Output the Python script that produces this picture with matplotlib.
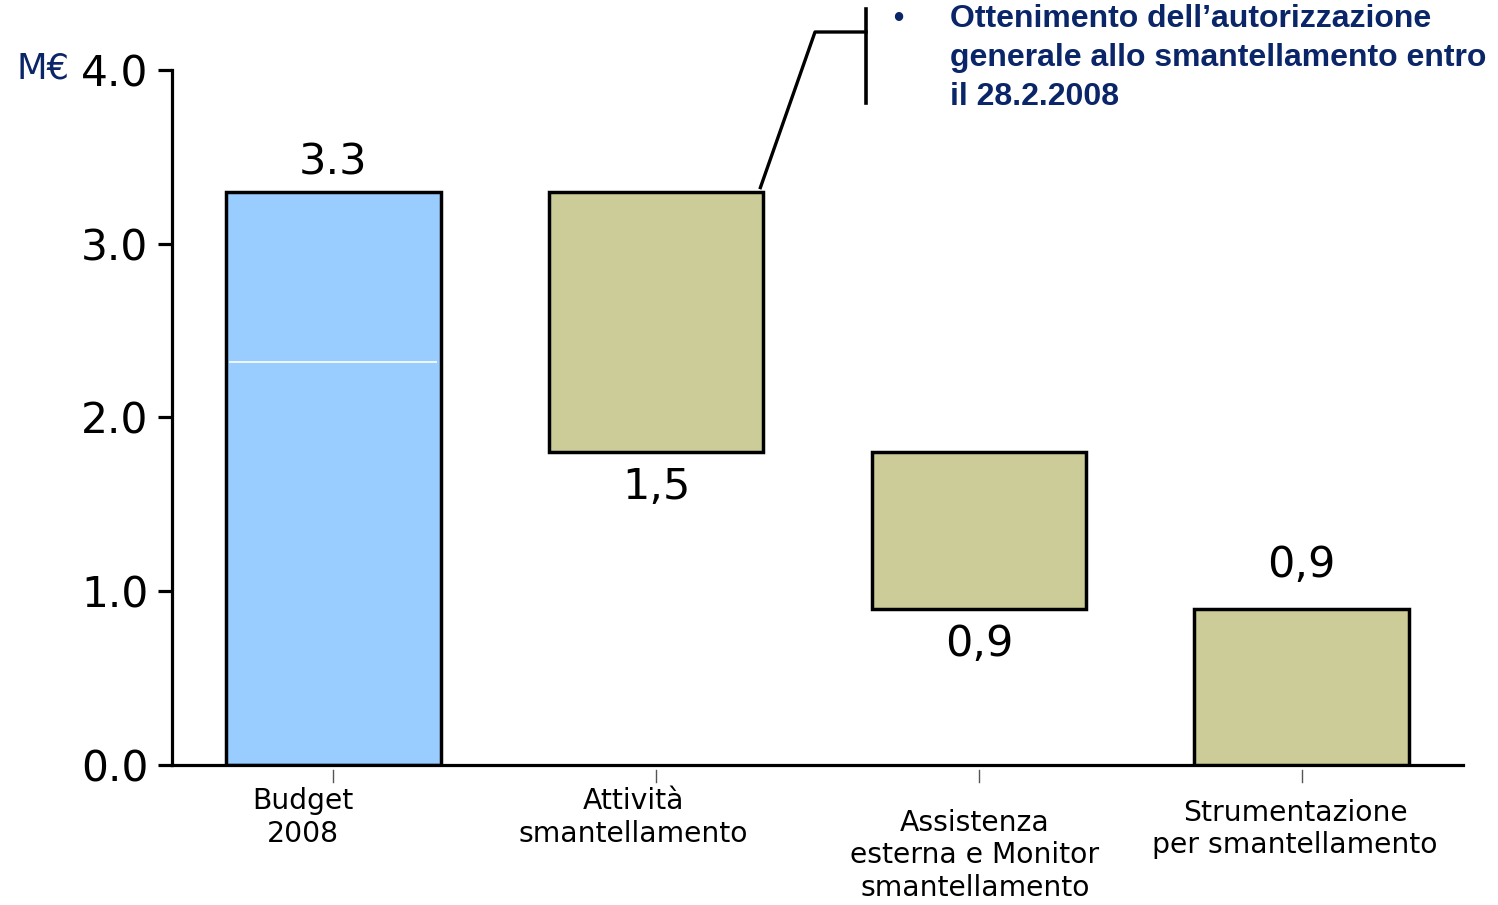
import matplotlib
matplotlib.use("Agg")
import matplotlib.pyplot as plt
import matplotlib.transforms as mtransforms
from matplotlib.lines import Line2D

# ── Data ──────────────────────────────────────────────────
categories = ["Budget\n2008", "Attività\nsmantellamento",
              "Assistenza\nesterna e Monitor\nsmantellamento",
              "Strumentazione\nper smantellamento"]
budget_total = 3.3
budget_lower = 2.32          # white split inside the budget bar
steps = [1.5, 0.9, 0.9]      # cost items, drawn as falling steps
value_labels = ["3.3", "1,5", "0,9", "0,9"]
note_lines = ["Ottenimento dell\u2019autorizzazione",
              "generale allo smantellamento entro",
              "il 28.2.2008"]

BLUE = "#99CCFF"
OLIVE = "#CCCC99"
NAVY = "#0A2668"
W = 0.665

fig = plt.figure(figsize=(14.98, 9.05), dpi=100)
ax = fig.add_axes([0.1148, 0.1547, 0.8618, 0.768])
ax.set_xlim(-0.5, 3.5)
ax.set_ylim(0, 4.0)

# budget bar: two segments split by a white line, single black outline
ax.bar(0, budget_lower, W, color=BLUE, edgecolor="none", zorder=2)
ax.bar(0, budget_total - budget_lower, W, bottom=budget_lower,
       color=BLUE, edgecolor="none", zorder=2)
ax.hlines(budget_lower, -W / 2 + 0.01, W / 2 - 0.01, color="white", lw=1.2, zorder=3)
ax.bar(0, budget_total, W, color="none", edgecolor="black", linewidth=2.5, zorder=4)

# waterfall steps
top = budget_total
bottoms = []
for i, s in enumerate(steps, start=1):
    b = top - s
    bottoms.append(b)
    ax.bar(i, s, W, bottom=b, color=OLIVE, edgecolor="black",
           linewidth=2.5, zorder=4)
    top = b

# value labels
VFS = 31
ax.text(0, budget_total + 0.045, value_labels[0], ha="center", va="bottom", fontsize=VFS)
ax.text(1, bottoms[0] - 0.08, value_labels[1], ha="center", va="top", fontsize=VFS)
ax.text(2, bottoms[1] - 0.08, value_labels[2], ha="center", va="top", fontsize=VFS)
ax.text(3, bottoms[2] + steps[2] + 0.13, value_labels[3], ha="center", va="bottom", fontsize=VFS)

# axes styling
for sp in ["top", "right"]:
    ax.spines[sp].set_visible(False)
for sp in ["left", "bottom"]:
    ax.spines[sp].set_linewidth(2.3)
ax.set_yticks([0, 1, 2, 3, 4])
ax.set_yticklabels([f"{v:.1f}" for v in [0, 1, 2, 3, 4]])
ax.tick_params(axis="y", length=10, width=2.3, pad=7, labelsize=30.5)
ax.set_xticks([])

# detached x ticks and category labels
trans = mtransforms.blended_transform_factory(ax.transData, ax.transAxes)
label_dx = [-0.095, -0.07, -0.012, -0.02]
label_y = [-0.076, -0.076, -0.130, -0.092]
for i, lab in enumerate(categories):
    ax.add_line(Line2D([i, i], [-0.007, -0.025], transform=trans,
                       color="#555555", lw=1.0, clip_on=False))
    ax.text(i + label_dx[i], label_y[i], lab, transform=trans, ha="center",
            va="center", fontsize=20.3, linespacing=1.22)

fig.text(0.011, 0.924, "M€", color=NAVY, fontsize=25.5, va="center", ha="left")

# callout from Attività bar to the note
fig.canvas.draw()
x0, y0 = ax.transData.transform((1 + W / 2, budget_total))
fx0, fy0 = fig.transFigure.inverted().transform((x0, y0))
H = 905.0
Wd = 1498.0
fig.add_artist(Line2D([fx0 - 3 / Wd, 815 / Wd, 866 / Wd],
                      [fy0 + 4 / H, 1 - 32 / H, 1 - 32 / H],
                      color="black", lw=2.4))
fig.add_artist(Line2D([866 / Wd, 866 / Wd], [1 - 9 / H, 1 - 103 / H],
                      color="black", lw=2.6))

fig.text(893 / Wd, 1 - 19 / H, "\u2022", color=NAVY, fontsize=21,
         fontweight="bold", family="Liberation Sans", va="center")
for k, line in enumerate(note_lines):
    fig.text(950 / Wd, 1 - (19 + 39 * k) / H, line, color=NAVY, fontsize=23.0,
             fontweight="bold", family="Liberation Sans", va="center", ha="left")

fig.savefig("out.png", dpi=100)
